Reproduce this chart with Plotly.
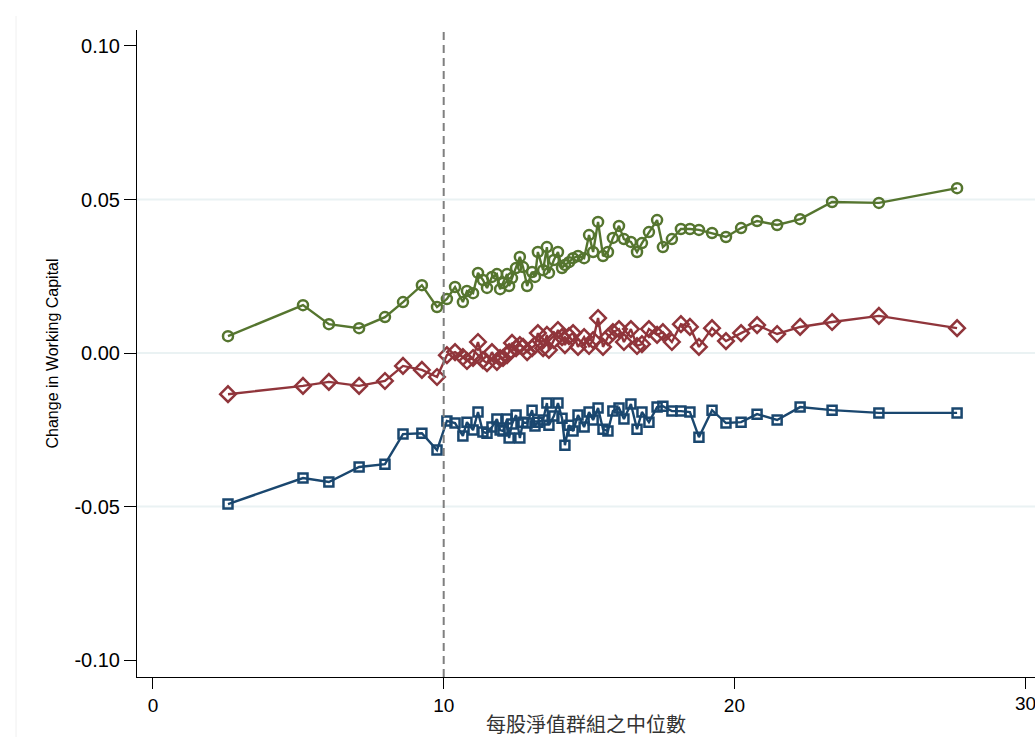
import plotly.graph_objects as go

# Median book value per share of each group (x) and change in working capital (y)
x_median = [
    2.58, 5.16, 6.05, 7.09, 7.98, 8.60, 9.25, 9.77,
    10.11, 10.39, 10.66, 10.80, 11.01, 11.18, 11.35, 11.49, 11.66, 11.83,
    11.94, 12.04, 12.18, 12.25, 12.35, 12.49, 12.62, 12.73, 12.87, 13.04,
    13.14, 13.24, 13.42, 13.55, 13.62, 13.79, 13.93, 14.07, 14.17, 14.31,
    14.45, 14.62, 14.83, 15.00, 15.14, 15.31,
    15.48, 15.65, 15.82, 16.03, 16.20, 16.44, 16.65, 16.82, 17.06, 17.34,
    17.54, 17.85, 18.16, 18.47, 18.78, 19.23, 19.71, 20.23, 20.78, 21.47,
    22.26, 23.36, 24.97, 27.66,
]

y_navy = [
    -0.0492, -0.0407, -0.0420, -0.0371, -0.0362, -0.0264, -0.0261, -0.0316,
    -0.0221, -0.0228, -0.0270, -0.0225, -0.0251, -0.0192, -0.0257, -0.0261, -0.0241, -0.0215,
    -0.0251, -0.0254, -0.0215, -0.0277, -0.0231, -0.0202, -0.0277, -0.0225, -0.0228, -0.0186,
    -0.0238, -0.0225, -0.0218, -0.0163, -0.0235, -0.0205, -0.0163, -0.0212, -0.0300, -0.0235,
    -0.0254, -0.0202, -0.0241, -0.0192, -0.0218, -0.0179,
    -0.0248, -0.0254, -0.0189, -0.0179, -0.0215, -0.0166, -0.0248, -0.0192, -0.0225, -0.0176,
    -0.0173, -0.0189, -0.0189, -0.0192, -0.0274, -0.0186, -0.0228, -0.0225, -0.0199, -0.0218,
    -0.0176, -0.0186, -0.0195, -0.0195,
]

y_maroon = [
    -0.0134, -0.0107, -0.0094, -0.0107, -0.0091, -0.0042, -0.0055, -0.0078,
    -0.0007, 0.0003, -0.0013, -0.0026, -0.0016, 0.0036, -0.0023, -0.0033, 0.0003, -0.0029,
    -0.0016, -0.0016, -0.0007, 0.0003, 0.0033, 0.0016, 0.0026, 0.0020, 0.0003, 0.0016,
    0.0026, 0.0065, 0.0016, 0.0059, 0.0010, 0.0042, 0.0075, 0.0052, 0.0026, 0.0055,
    0.0065, 0.0020, 0.0052, 0.0023, 0.0042, 0.0114,
    0.0020, 0.0052, 0.0068, 0.0078, 0.0036, 0.0078, 0.0023, 0.0029, 0.0078, 0.0059,
    0.0068, 0.0036, 0.0094, 0.0085, 0.0020, 0.0081, 0.0039, 0.0065, 0.0091, 0.0062,
    0.0085, 0.0101, 0.0121, 0.0081,
]

y_green = [
    0.0055, 0.0156, 0.0094, 0.0081, 0.0117, 0.0166, 0.0221, 0.0150,
    0.0176, 0.0215, 0.0166, 0.0202, 0.0195, 0.0261, 0.0238, 0.0212, 0.0248, 0.0257,
    0.0208, 0.0228, 0.0257, 0.0218, 0.0244, 0.0277, 0.0313, 0.0280, 0.0218, 0.0264,
    0.0248, 0.0329, 0.0270, 0.0345, 0.0261, 0.0303, 0.0329, 0.0277, 0.0287, 0.0296,
    0.0309, 0.0316, 0.0309, 0.0384, 0.0329, 0.0427,
    0.0316, 0.0329, 0.0375, 0.0414, 0.0371, 0.0362, 0.0329, 0.0358, 0.0394, 0.0433,
    0.0345, 0.0371, 0.0404, 0.0404, 0.0401, 0.0391, 0.0378, 0.0407, 0.0430, 0.0417,
    0.0436, 0.0492, 0.0489, 0.0537,
]

y_ticks = [-0.10, -0.05, 0.00, 0.05, 0.10]
y_tick_text = ["-0.10", "-0.05", "0.00", "0.05", "0.10"]
x_ticks = [0, 10, 20, 30]
grid_levels = [-0.05, 0.00, 0.05]
cutoff = 10

NAVY = "#1a476f"
MAROON = "#90353b"
GREEN = "#55752f"
FONT = "Liberation Sans, Arial, sans-serif"

fig = go.Figure()

series = [
    (y_navy, NAVY, "square-open", 9),
    (y_maroon, MAROON, "diamond-open", 12),
    (y_green, GREEN, "circle-open", 10),
]
for ys, col, sym, sz in series:
    fig.add_trace(go.Scatter(
        x=x_median, y=ys, mode="lines+markers",
        line=dict(color=col, width=2.4),
        marker=dict(symbol=sym, size=sz, color=col, line=dict(color=col, width=2.5)),
        showlegend=False, hoverinfo="x+y",
    ))

shapes = []
for g in grid_levels:
    shapes.append(dict(type="line", xref="paper", yref="y", x0=0, x1=1, y0=g, y1=g,
                       line=dict(color="#eaf2f3", width=2), layer="below"))
shapes.append(dict(type="line", xref="x", yref="paper", x0=cutoff, x1=cutoff, y0=0, y1=1,
                   line=dict(color="#7f7f7f", width=2, dash="8px,5px")))
# faint outer frame edge on the left
shapes.append(dict(type="line", xref="paper", yref="paper", x0=-0.1347, x1=-0.1347,
                   y0=-0.093, y1=1.0216, line=dict(color="#f0f0f0", width=1)))

fig.update_layout(
    width=1035, height=737,
    margin=dict(l=137, r=0, t=30, b=60),
    paper_bgcolor="white", plot_bgcolor="white",
    font=dict(family=FONT, color="black"),
    shapes=shapes,
    xaxis=dict(
        range=[-0.55, 30.34], tickvals=x_ticks, ticks="outside", ticklen=11,
        tickwidth=1, tickcolor="black", showgrid=False, zeroline=False,
        showline=True, linecolor="black", linewidth=1,
        tickfont=dict(size=19, family=FONT),
    ),
    yaxis=dict(
        range=[-0.1055, 0.1052], tickvals=y_ticks, ticktext=y_tick_text,
        ticks="outside", ticklen=12, tickwidth=1, tickcolor="black",
        showgrid=False, zeroline=False, showline=True, linecolor="black", linewidth=1,
        tickfont=dict(size=20, family=FONT),
    ),
    annotations=[
        # last x tick label sits on the right edge of the page
        dict(text="30", xref="x", yref="paper", x=30, y=0, xanchor="center",
             yanchor="middle", yshift=-26, showarrow=False,
             font=dict(size=19, family=FONT, color="black")),
        dict(text="每股淨值群組之中位數", xref="paper", yref="paper", x=0.5, y=0,
             xanchor="center", yanchor="middle", yshift=-46, showarrow=False,
             font=dict(size=20, family="Noto Sans CJK TC, sans-serif", color="#333")),
        dict(text="Change in Working Capital", xref="paper", yref="paper", x=0, y=0.5,
             xanchor="center", yanchor="middle", xshift=-85, textangle=-90, showarrow=False,
             font=dict(size=16, family=FONT, color="black")),
    ],
)

fig.write_html("out.html")
